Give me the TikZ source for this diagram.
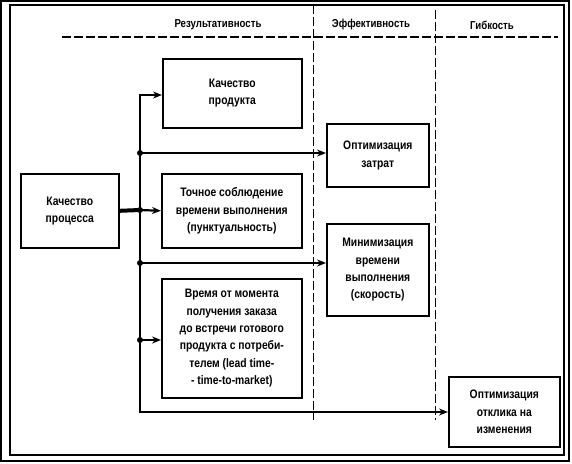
\documentclass[tikz,border=0pt]{standalone}
\usepackage{fontspec}
\setmainfont{Liberation Sans}[FakeStretch=0.84]
\usetikzlibrary{positioning,arrows.meta}

\begin{document}
\begin{tikzpicture}[x=1pt,y=-1pt,every node/.style={align=center,font=\bfseries\fontsize{12.3}{17.4}\selectfont},
  box/.style={draw,line width=1.6pt,anchor=north west,inner sep=0pt},
  head/.style={font=\bfseries\fontsize{11.5}{14}\selectfont},
  wire/.style={line width=2.2pt,line join=miter},
  tip/.tip={Stealth[length=9pt,width=7pt,inset=3pt]},
  sep/.style={dash pattern=on 9pt off 3pt,line width=1pt}]
\useasboundingbox (0,0) rectangle (572,463);
% frame
\draw[line width=1.1pt] (1,1) rectangle (569,461);
\draw[line width=1.6pt] (10,5) rectangle (564,455);
% columns
\node[head] (res) at (218,25) {Результативность};
\node[head] (eff) at (371,25) {Эффективность};
\node[head] (flex) at (492,25) {Гибкость};
\draw[sep,line width=1.6pt] (62,37) -- (558,37);
\draw[sep] (313,5) -- (313,420);
\draw[sep] (435,10) -- (435,420);
% boxes
\node[box,minimum width=98pt,minimum height=74pt] (proc) at (20,173) {Качество\\процесса};
\node[box,minimum width=139pt,minimum height=69pt] (prod) at (162,58) {Качество\\продукта};
\node[box,minimum width=140pt,minimum height=74pt] (punct) at (161,173) {Точное соблюдение\\времени выполнения\\(пунктуальность)};
\node[box,minimum width=140pt,minimum height=119pt] (lead) at (161,278) {Время от момента\\получения заказа\\до встречи готового\\продукта с потреби-\\телем (lead time-\\- time-to-market)};
\node[box,minimum width=102pt,minimum height=63pt] (cost) at (326,123) {Оптимизация\\затрат};
\node[box,minimum width=102pt,minimum height=92pt] (speed) at (326,223) {Минимизация\\времени\\выполнения\\(скорость)};
\node[box,minimum width=111pt,minimum height=70pt] (resp) at (448,376) {Оптимизация\\отклика на\\изменения};
% links
\coordinate (j1) at (140,95);
\coordinate (j2) at (140,153);
\coordinate (j3) at (140,210);
\coordinate (j4) at (140,263);
\coordinate (j5) at (140,340);
\coordinate (j6) at (140,412);
\draw[wire,tip-tip] (j1 -| prod.west) -- (j1) -- (j6) -- (j6 -| resp.west);
\draw[line width=4pt] (proc.east) -- (j3);
\draw[wire,-tip] (j3) -- (punct.west);
\draw[wire,-tip] (j2) -- (j2 -| cost.west);
\draw[wire,-tip] (j4) -- (j4 -| speed.west);
\draw[wire,-tip] (j5) -- (j5 -| lead.west);
\foreach \j in {j2,j3,j4,j5} \fill (\j) circle (3pt);
\end{tikzpicture}
\end{document}
